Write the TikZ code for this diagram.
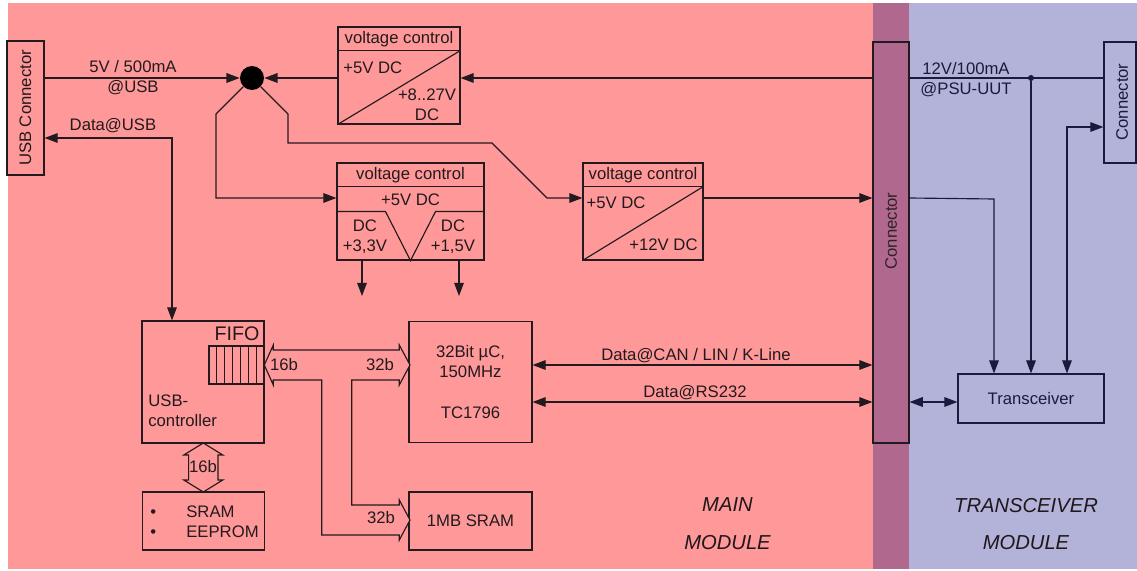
\documentclass[tikz,border=0pt]{standalone}
\usepackage{fontspec}
\setmainfont{Liberation Sans}
\usetikzlibrary{arrows.meta,positioning,calc}
\definecolor{MainBg}{RGB}{255,152,152}
\definecolor{ConnBg}{RGB}{176,104,142}
\definecolor{TrxBg}{RGB}{179,179,218}
\definecolor{Ink}{RGB}{34,26,30}
\definecolor{InkB}{RGB}{26,26,60}
\tikzset{
  blk/.style={rectangle,draw=Ink,line width=.65pt,inner sep=0pt,
              font=\fontsize{9.5}{11.5}\selectfont,text=Ink},
  lbl/.style={inner sep=0pt,font=\fontsize{9.5}{11.5}\selectfont,text=Ink},
  modlbl/.style={inner sep=0pt,font=\fontsize{11.5}{21.5}\selectfont\itshape,
                 text=Ink!90!black,align=center},
  fedge/.style={-{Triangle[length=7.5pt,width=5.5pt]},Ink,line width=.65pt},
  bedge/.style={{Triangle[length=7.5pt,width=5.5pt]}-{Triangle[length=7.5pt,width=5.5pt]},
                Ink,line width=.65pt},
  pedge/.style={Ink,line width=.65pt},
}

\begin{document}
\begin{tikzpicture}[x=0.02cm,y=-0.02cm]
    % module backgrounds
    \useasboundingbox (0,0) rectangle (1137,571);
    \fill[MainBg] (8,3) rectangle (873,569);
    \fill[ConnBg] (873,3) rectangle (909,569);
    \fill[TrxBg] (909,3) rectangle (1137,569);

    % blocks
    \node[blk,minimum width=0.74cm,minimum height=2.68cm] (usbconn) at (25.5,108) {};
    \node[lbl,rotate=90] (usbconnT) at (usbconn.center) {USB Connector};

    \node[blk,minimum width=2.44cm,minimum height=1.94cm] (vcA) at (399,75.5) {};
    \node[lbl] (vcAT) at (399,39) {voltage control};
    \node[lbl,anchor=west] (vcAin) at (343,68) {+5V DC};
    \node[lbl,align=center] (vcAout) at (427,105) {+8..27V\\DC};
    \draw[pedge] ($(vcA.north west)+(0,24)$) -- ($(vcA.north east)+(0,24)$);
    \draw[pedge] (vcA.south west) -- ($(vcA.north east)+(0,24)$);

    \node[blk,minimum width=2.94cm,minimum height=1.94cm] (vcB) at (410.5,211.5) {};
    \node[lbl] (vcBT) at (410.5,175) {voltage control};
    \node[lbl] (vcBin) at (410.5,199.5) {+5V DC};
    \node[lbl,align=center] (vcB33) at (365,237) {DC\\+3,3V};
    \node[lbl,align=center] (vcB15) at (453,237) {DC\\+1,5V};
    \draw[pedge] ($(vcB.north west)+(0,24)$) -- ($(vcB.north east)+(0,24)$);
    \draw[pedge] ($(vcB.north west)+(0,49)$) -- ++(49,0) -- (vcB.south)
                 -- ($(vcB.north east)+(-49,49)$) -- ($(vcB.north east)+(0,49)$);

    \node[blk,minimum width=2.40cm,minimum height=1.94cm] (vcC) at (643,211.5) {};
    \node[lbl] (vcCT) at (643,175) {voltage control};
    \node[lbl] (vcCin) at (616,203) {+5V DC};
    \node[lbl] (vcCout) at (663.5,245) {+12V DC};
    \draw[pedge] ($(vcC.north west)+(0,24)$) -- ($(vcC.north east)+(0,24)$);
    \draw[pedge] (vcC.south west) -- ($(vcC.north east)+(0,24)$);

    \node[blk,fill=ConnBg,minimum width=0.72cm,minimum height=8.02cm] (conn) at (891,242.5) {};
    \node[lbl,rotate=90,text=Ink!90!ConnBg] (connT) at (891,231) {Connector};

    \node[blk,draw=InkB,minimum width=0.64cm,minimum height=2.42cm] (rconn) at (1120,102.5) {};
    \node[lbl,rotate=90,text=InkB] (rconnT) at (1122,102) {Connector};

    \node[blk,draw=InkB,text=InkB,minimum width=2.92cm,minimum height=0.98cm] (trx) at (1031,398.5) {Transceiver};

    \node[blk,minimum width=2.44cm,minimum height=2.44cm] (usbctl) at (203,382) {};
    \node[lbl,anchor=west,align=left] (usbctlT) at (148,410.5) {USB-\\controller};
    \node[lbl,font=\fontsize{11.2}{13}\selectfont] (fifoT) at (237,334) {FIFO};
    \draw[pedge] (209,346) rectangle (usbctl.east |- 0,384);
    \foreach \i in {1,...,6}
      \draw[pedge] ({209+\i*7.9},346) -- ({209+\i*7.9},384);

    \node[blk,minimum width=2.44cm,minimum height=1.16cm] (mem) at (203.5,521) {};
    \node[lbl,anchor=west,align=left] (memT) at (150,522)
      {\makebox[0.72cm][l]{\textbullet}SRAM\\\makebox[0.72cm][l]{\textbullet}EEPROM};

    \node[blk,align=center,minimum width=2.46cm,minimum height=2.42cm] (uc) at (470.5,382)
      {32Bit µC,\\150MHz\\[12pt]TC1796};
    \node[blk,minimum width=2.46cm,minimum height=1.16cm] (sram) at (470.5,521) {1MB SRAM};

    % junctions and bends
    \node[circle,fill=black,minimum size=0.48cm,inner sep=0pt] (hub) at (252,78) {};
    \node[circle,fill=InkB,minimum size=0.12cm,inner sep=0pt] (jn) at (1031,78) {};
    \coordinate (kl) at (216,114);
    \coordinate (kr) at (288,114);
    \coordinate (kr2) at (288,143);
    \coordinate (kr3) at (492,143);
    \coordinate (cin) at (547,198);
    \coordinate (dusb) at (172,138);
    \coordinate (o33) at (362,296);
    \coordinate (o15) at (459,296);
    \coordinate (can) at (600,365);
    \coordinate (rs) at (600,402);
    \coordinate (t1) at (994,199);
    \coordinate (t3) at (1067,127);

    % power
    \draw[fedge] (usbconn.east |- hub) -- (hub);
    \draw[fedge] (vcA.west |- hub) -- (hub);
    \draw[fedge] (conn.west |- hub) -- (vcA.east |- hub);
    \draw[fedge] (hub.south west) -- (kl) |- (vcB.west |- cin);
    \draw[fedge] (hub.south east) -- (kr) -- (kr2) -- (kr3) -- (cin) -- (vcC.west |- cin);
    \draw[fedge] (vcC.east |- cin) -- (conn.west |- cin);
    \draw[fedge] (o33 |- vcB.south) -- (o33);
    \draw[fedge] (o15 |- vcB.south) -- (o15);

    % data
    \draw[bedge] (usbconn.east |- dusb) -- (dusb) -- (dusb |- usbctl.north);
    \draw[bedge] (uc.east |- can) -- (conn.west |- can);
    \draw[bedge] (uc.east |- rs) -- (conn.west |- rs);

    % transceiver module
    \draw[pedge,InkB] (conn.east |- hub) -- (rconn.west |- hub);
    \draw[fedge,InkB] (jn) -- (jn |- trx.north);
    \draw[fedge,InkB] (conn.east |- cin) -- (t1) -- (t1 |- trx.north);
    \draw[bedge,InkB] (rconn.west |- t3) -- (t3) -- (t3 |- trx.north);
    \draw[bedge,InkB] (conn.east |- rs) -- (trx.west |- rs);

    % buses
    \draw[pedge,fill=MainBg] (264.3,365) -- (273.3,345) -- (273.3,350) -- (399.3,350)
      -- (399.3,345) -- (410,365) -- (399.3,385) -- (399.3,380) -- (351.7,380)
      -- (351.7,505) -- (399.3,505) -- (399.3,500) -- (410,520) -- (399.3,540)
      -- (399.3,535) -- (321.7,535) -- (321.7,380) -- (273.3,380) -- (273.3,385) -- cycle;
    \draw[pedge,fill=MainBg] (203.3,443) -- (222.8,455) -- (218,455) -- (218,480)
      -- (222.8,480) -- (203.3,492) -- (183.8,480) -- (188.6,480) -- (188.6,455)
      -- (183.8,455) -- cycle;

    % labels
    \node[lbl,align=center] (lpwr) at (133,78) {5V / 500mA\\@USB};
    \node[lbl] (ldusb) at (113,126) {Data@USB};
    \node[lbl,align=center,text=InkB] (l12v) at (966,80) {12V/100mA\\@PSU-UUT};
    \node[lbl] (lcan) at (696,356) {Data@CAN / LIN / K-Line};
    \node[lbl] (lrs) at (695,393) {Data@RS232};
    \node[lbl] (lb16) at (284,365) {16b};
    \node[lbl] (lb32) at (380,365) {32b};
    \node[lbl] (lb32s) at (381,518) {32b};
    \node[lbl] (lb16m) at (203,467) {16b};
    \node[modlbl] (lmain) at (727.5,524) {MAIN\\MODULE};
    \node[modlbl] (ltrx) at (1026,524) {TRANSCEIVER\\MODULE};
\end{tikzpicture}
\end{document}
